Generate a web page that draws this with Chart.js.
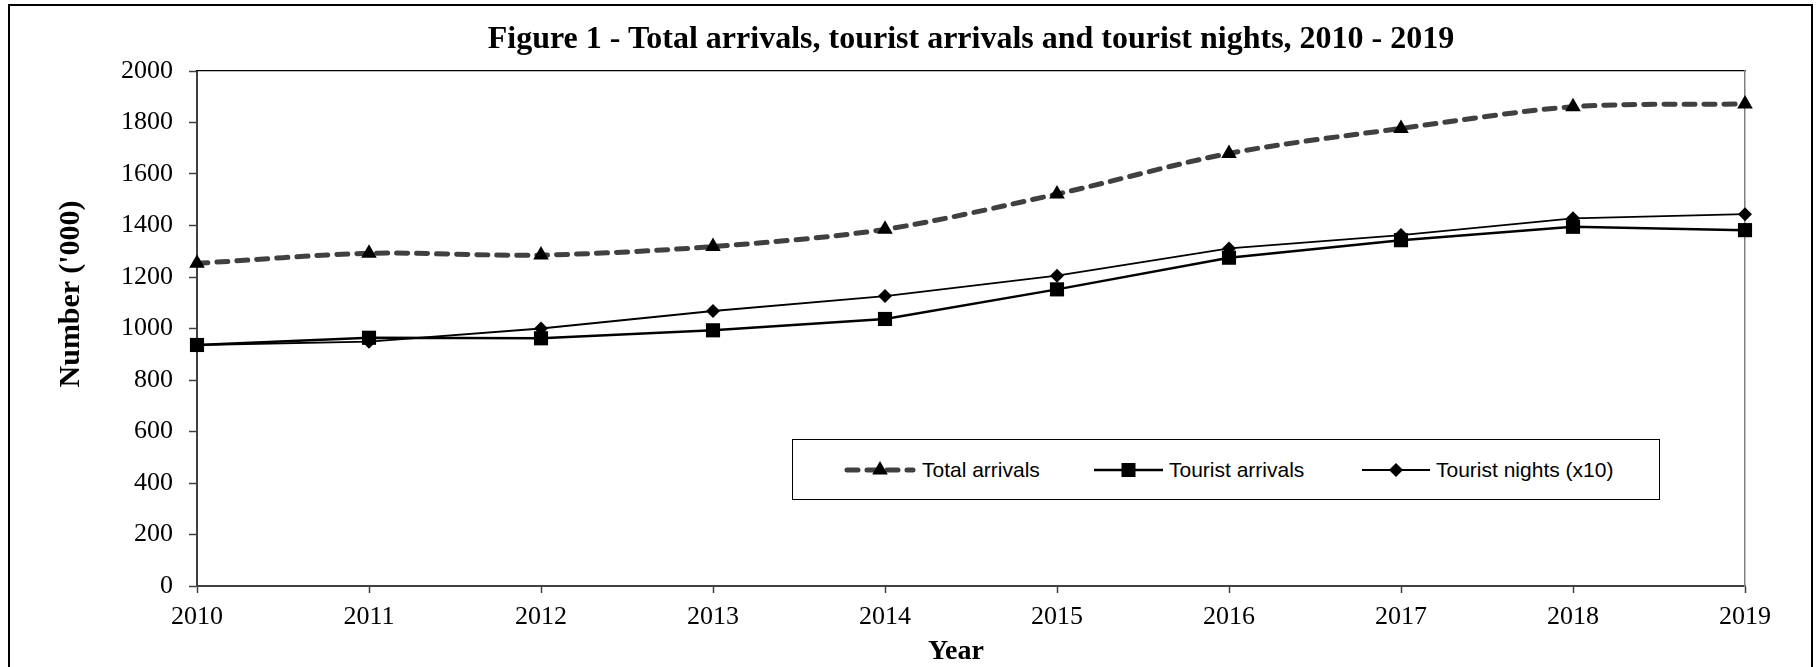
<!DOCTYPE html>
<html>
<head>
<meta charset="utf-8">
<script src="https://cdn.jsdelivr.net/npm/chart.js@4.4.1/dist/chart.umd.min.js"></script>
<style>
html, body { margin: 0; padding: 0; background: #fff; }
#wrap { position: relative; width: 1816px; height: 667px; overflow: hidden; }
#frame { position: absolute; left: 8px; top: 4px; width: 1805px; height: 700px; border: 2px solid #000; box-sizing: border-box; }
canvas { position: absolute; left: 0; top: 0; }
.title { position: absolute; left: 197px; width: 1548px; top: 19px; text-align: center;
  font: bold 32px "Liberation Serif", serif; color: #000; }
.xtitle { position: absolute; left: 856px; width: 200px; top: 634px; text-align: center;
  font: bold 28px "Liberation Serif", serif; color: #000; }
.ytitle { position: absolute; left: 69px; top: 294px; width: 300px; text-align: center;
  transform: translate(-50%, -50%) rotate(-90deg);
  font: bold 30px "Liberation Serif", serif; color: #000; }
#legend { position: absolute; left: 792px; top: 439px; width: 868px; height: 61px;
  border: 1px solid #000; box-sizing: border-box; background: #fff; }
#legend .item { position: absolute; top: 0; height: 59px; display: flex; align-items: center; }
#legend .item span { font: 21px "Liberation Sans", Arial, sans-serif; color: #000; margin-left: 6px; }
</style>
</head>
<body>
<div id="wrap">
  <div id="frame"></div>
  <canvas id="chart" width="1816" height="667"></canvas>
  <div class="title">Figure 1 - Total arrivals, tourist arrivals and tourist nights, 2010 - 2019</div>
  <div class="ytitle">Number ('000)</div>
  <div class="xtitle">Year</div>
  <div id="legend"></div>
</div>
<script>
const years = ['2010', '2011', '2012', '2013', '2014', '2015', '2016', '2017', '2018', '2019'];
const totalArrivals = [1253, 1292, 1285, 1318, 1385, 1522, 1680, 1777, 1861, 1872];
const touristArrivals = [936, 964, 962, 993, 1037, 1152, 1275, 1343, 1395, 1382];
const touristNights = [936, 949, 1000, 1068, 1126, 1205, 1311, 1363, 1428, 1444];
const yMin = 0;
const yMax = 2000;
const yStep = 200;

const tickFont = { family: 'Liberation Serif', size: 26 };

const ctx = document.getElementById('chart').getContext('2d');
const chart = new Chart(ctx, {
    type: 'line',
    data: {
        labels: years,
        datasets: [{
            label: 'Total arrivals',
            data: totalArrivals,
            borderColor: '#404040',
            borderWidth: 5,
            borderDash: [11, 9],
            borderCapStyle: 'round',
            tension: 0.3,
            pointStyle: 'triangle',
            pointRadius: 9,
            pointBackgroundColor: '#000',
            pointBorderColor: '#000',
            pointBorderWidth: 0
        }, {
            label: 'Tourist arrivals',
            data: touristArrivals,
            borderColor: '#000',
            borderWidth: 2.5,
            tension: 0,
            pointStyle: 'rect',
            pointRadius: 10,
            pointBackgroundColor: '#000',
            pointBorderColor: '#000',
            pointBorderWidth: 0
        }, {
            label: 'Tourist nights (x10)',
            data: touristNights,
            borderColor: '#000',
            borderWidth: 1.8,
            tension: 0,
            pointStyle: 'rectRot',
            pointRadius: 7,
            pointBackgroundColor: '#000',
            pointBorderColor: '#000',
            pointBorderWidth: 0
        }]
    },
    options: {
        responsive: false,
        animation: false,
        layout: { padding: { top: 71, right: 71, left: 0, bottom: 0 } },
        plugins: {
            legend: { display: false },
            tooltip: { enabled: false }
        },
        scales: {
            x: {
                offset: false,
                grid: { drawOnChartArea: false, tickLength: 7, tickColor: '#404040', tickWidth: 1.5 },
                border: { color: '#404040', width: 2 },
                ticks: { color: '#000', font: tickFont, padding: 9, maxRotation: 0, autoSkip: false },
                afterFit: (s) => { s.height = 81; }
            },
            y: {
                min: yMin,
                max: yMax,
                grid: { drawOnChartArea: false, tickLength: 8, tickColor: '#404040', tickWidth: 1.5 },
                border: { color: '#404040', width: 2 },
                ticks: { stepSize: yStep, color: '#000', font: tickFont, padding: 16, callback: (v) => String(v) },
                afterFit: (s) => { s.width = 197; }
            },
            xTop: {
                position: 'top',
                type: 'category',
                grid: { display: false },
                ticks: { display: false },
                border: { color: '#000', width: 1.2 },
                afterFit: (s) => { s.height = 0; }
            },
            yRight: {
                position: 'right',
                min: yMin,
                max: yMax,
                grid: { display: false },
                ticks: { display: false },
                border: { color: '#808080', width: 1.5 },
                afterFit: (s) => { s.width = 0; }
            }
        }
    }
});

// legend drawn as html, markers taken from the dataset styles
const legendSpots = [51, 301, 569];
const legendWidths = [72, 69, 68];
const legendEl = document.getElementById('legend');
chart.data.datasets.forEach((ds, i) => {
    const w = legendWidths[i];
    const cx = w / 2;
    const cy = 15;
    let marker = '';
    if (ds.pointStyle === 'triangle') {
        marker = `<polygon points="${cx},${cy - 9} ${cx - 7.8},${cy + 4.5} ${cx + 7.8},${cy + 4.5}" fill="#000"/>`;
    } else if (ds.pointStyle === 'rect') {
        marker = `<rect x="${cx - 7}" y="${cy - 7}" width="14" height="14" fill="#000"/>`;
    } else {
        marker = `<polygon points="${cx},${cy - 7} ${cx + 7},${cy} ${cx},${cy + 7} ${cx - 7},${cy}" fill="#000"/>`;
    }
    const dash = ds.borderDash ? `stroke-dasharray="11 9" stroke-linecap="round"` : '';
    const x0 = ds.borderDash ? 3 : 0;
    const x1 = ds.borderDash ? w - 3 : w;
    const item = document.createElement('div');
    item.className = 'item';
    item.style.left = legendSpots[i] + 'px';
    item.innerHTML = `<svg width="${w}" height="30"><line x1="${x0}" y1="${cy}" x2="${x1}" y2="${cy}" stroke="${ds.borderColor}" stroke-width="${ds.borderWidth}" ${dash}/>${marker}</svg><span>${ds.label}</span>`;
    legendEl.appendChild(item);
});
</script>
</body>
</html>
